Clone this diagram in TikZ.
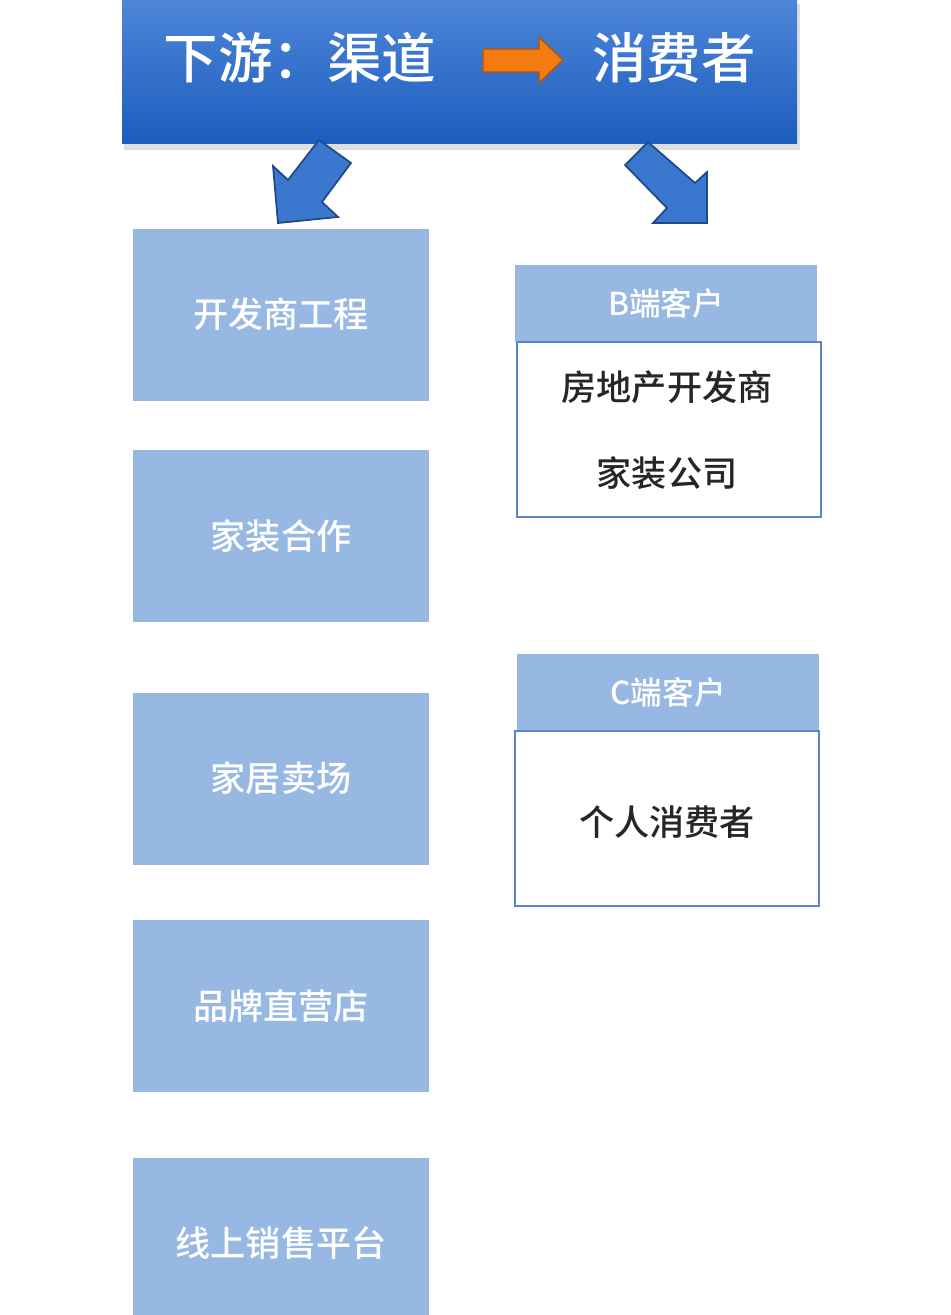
\documentclass[tikz,border=0pt]{standalone}
\usepackage{fontspec}
\setmainfont{Noto Sans CJK SC}[UprightFont=* Medium, BoldFont=* Bold]
\usetikzlibrary{positioning}
\definecolor{bannertop}{HTML}{4E86D8}
\definecolor{bannerbot}{HTML}{1C5DBE}
\definecolor{boxblue}{HTML}{97B8E3}
\definecolor{edgeblue}{HTML}{5B86C8}
\definecolor{arrowblue}{HTML}{3B77CF}
\definecolor{arrowedge}{HTML}{1E4A86}
\definecolor{orangefill}{HTML}{F47A12}
\begin{document}
\begin{tikzpicture}[x=0.02cm, y=-0.02cm,
    channel/.style={fill=boxblue, minimum width=296*0.02cm, minimum height=172*0.02cm, text=white, font=\fontsize{20}{24}\selectfont, inner sep=0pt},
    head/.style={fill=boxblue, minimum width=302*0.02cm, minimum height=77*0.02cm, text=white, font=\fontsize{18}{22}\selectfont, inner sep=0pt},
    body/.style={draw=edgeblue, line width=1pt, fill=white, minimum width=304*0.02cm, minimum height=175*0.02cm, inner sep=0pt},
    dark/.style={text=black!85, font=\fontsize{20}{24}\selectfont},
    bigarrow/.style={fill=arrowblue, draw=arrowedge, line width=1pt, line join=miter}]
    \useasboundingbox (0,0) rectangle (950,1315);
    % banner
    \fill[gray!25] (124,4) rectangle (800,150);
    \shade[top color=bannertop, bottom color=bannerbot] (122,0) rectangle (797,143);
    \node[text=white, font=\fontsize{31}{36}\selectfont] (down) at (300,58) {下游：渠道};
    \node[text=white, font=\fontsize{31}{36}\selectfont] (cons) at (674,58) {消费者};
    \draw[fill=orangefill, draw=orangefill!70!black, line width=.8pt]
        (483,49) -- (539,49) -- (539,37) -- (563,60) -- (539,83) -- (539,72) -- (483,72) -- cycle;
    % block arrows
    \draw[bigarrow] (351,163) -- (322,202) -- (338,217) -- (278,223) -- (273,166) -- (288,180) -- (319,140) -- cycle;
    \draw[bigarrow] (648,142) -- (695,183) -- (707,172) -- (707,223) -- (653,223) -- (667,208) -- (625,165) -- cycle;
    % channels
    \node[channel] (dev) at (281,314.5) {开发商工程};
    \node[channel] (deco) at (281,536) {家装合作};
    \node[channel] (mall) at (281,778.5) {家居卖场};
    \node[channel] (store) at (281,1006) {品牌直营店};
    \node[channel, minimum height=170*0.02cm] (online) at (281,1243) {线上销售平台};
    % customers
    \node[head] (bhead) at (666,303.5) {B端客户};
    \node[body] (bbody) at (669,429.5) {};
    \node[dark] (realty) at (667,387) {房地产开发商};
    \node[dark] (homeco) at (667,473) {家装公司};
    \node[head] (chead) at (668,692) {C端客户};
    \node[body] (cbody) at (667,818.5) {};
    \node[dark] (person) at (667,822) {个人消费者};
\end{tikzpicture}
\end{document}
